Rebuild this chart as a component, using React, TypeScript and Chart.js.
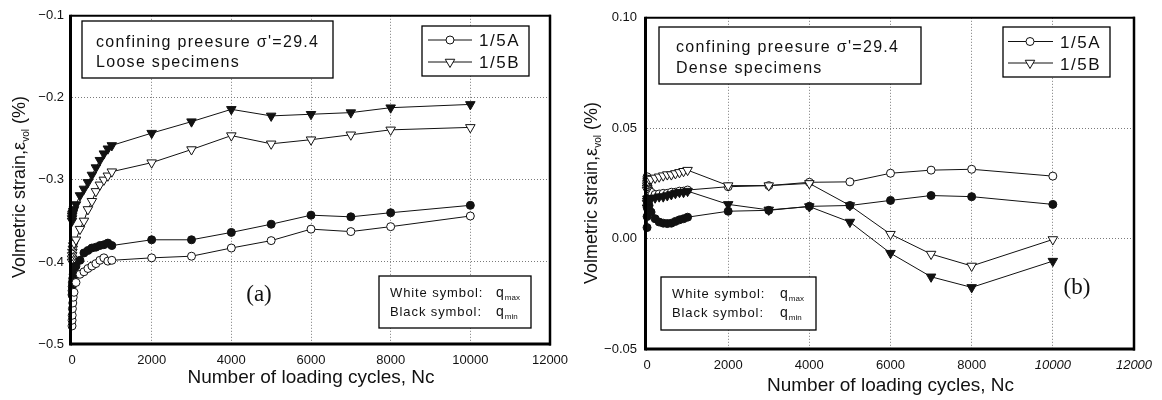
import React, { useEffect, useRef } from 'react';
import { Chart, registerables } from 'chart.js';

Chart.register(...registerables);

// ---------- data ----------
const cycles = [1, 2, 5, 10, 20, 30, 50, 100, 200, 300, 400, 500, 600, 700, 800, 900, 1000, 2000, 3000, 4000, 5000, 6000, 7000, 8000, 10000];

const xTickValues = [0, 2000, 4000, 6000, 8000, 10000, 12000];
const looseYTicks = [-0.5, -0.4, -0.3, -0.2, -0.1];
const denseYTicks = [-0.05, 0, 0.05, 0.1];

// (a) Loose specimens
const loose5A_qmax = [-0.478, -0.471, -0.465, -0.457, -0.45, -0.443, -0.437, -0.425, -0.415, -0.412, -0.408, -0.405, -0.402, -0.398, -0.395, -0.399, -0.398, -0.395, -0.393, -0.383, -0.374, -0.36, -0.363, -0.357, -0.344];
const loose5A_qmin = [-0.44, -0.435, -0.43, -0.425, -0.42, -0.415, -0.41, -0.405, -0.398, -0.389, -0.386, -0.383, -0.382, -0.38, -0.379, -0.377, -0.38, -0.373, -0.373, -0.364, -0.354, -0.343, -0.345, -0.34, -0.331];
const loose5B_qmax = [-0.4, -0.396, -0.392, -0.388, -0.384, -0.38, -0.377, -0.373, -0.36, -0.35, -0.336, -0.326, -0.314, -0.306, -0.3, -0.295, -0.29, -0.279, -0.263, -0.246, -0.256, -0.251, -0.245, -0.239, -0.236];
const loose5B_qmin = [-0.35, -0.347, -0.344, -0.342, -0.34, -0.338, -0.336, -0.33, -0.319, -0.311, -0.303, -0.294, -0.285, -0.276, -0.268, -0.262, -0.258, -0.243, -0.229, -0.214, -0.222, -0.22, -0.218, -0.212, -0.208];

// (b) Dense specimens
const dense5A_qmax = [0.028, 0.027, 0.026, 0.025, 0.024, 0.023, 0.022, 0.021, 0.02, 0.0202, 0.0205, 0.0205, 0.021, 0.021, 0.0215, 0.0215, 0.022, 0.0235, 0.024, 0.0255, 0.0257, 0.0296, 0.031, 0.0314, 0.0283];
const dense5A_qmin = [0.005, 0.01, 0.014, 0.016, 0.018, 0.017, 0.015, 0.012, 0.009, 0.0075, 0.007, 0.0068, 0.007, 0.0078, 0.0085, 0.009, 0.0097, 0.0124, 0.0128, 0.0146, 0.015, 0.0173, 0.0195, 0.019, 0.0155];
const dense5B_qmax = [0.022, 0.023, 0.024, 0.025, 0.026, 0.026, 0.027, 0.027, 0.0275, 0.028, 0.0285, 0.029, 0.029, 0.0295, 0.03, 0.0305, 0.031, 0.024, 0.024, 0.025, 0.015, 0.002, -0.007, -0.0124, -0.0004];
const dense5B_qmin = [0.014, 0.016, 0.017, 0.018, 0.018, 0.018, 0.018, 0.018, 0.0185, 0.019, 0.019, 0.0195, 0.02, 0.0205, 0.021, 0.021, 0.0215, 0.0155, 0.013, 0.0145, 0.0075, -0.0066, -0.0173, -0.0221, -0.0102];

const legendLabels = ['1/5A', '1/5B'];

// ---------- styling ----------
const SANS = "'Liberation Sans', Arial, Helvetica, sans-serif";
const SERIF = "'Liberation Serif', 'Times New Roman', serif";
const INK = '#111';

type Shape = 'circle' | 'triangle';

function seriesDataset(values: number[], shape: Shape, filled: boolean) {
  return {
    data: cycles.map((c, i) => ({ x: c, y: values[i] })),
    borderColor: INK,
    borderWidth: 1,
    pointStyle: shape,
    pointRotation: shape === 'triangle' ? 180 : 0,
    pointRadius: shape === 'triangle' ? 5.5 : 4,
    pointBorderWidth: 1,
    pointBorderColor: INK,
    pointBackgroundColor: filled ? INK : '#fff',
    tension: 0,
    clip: false,
    fill: false,
  };
}

function drawMarker(ctx: CanvasRenderingContext2D, shape: Shape, x: number, y: number) {
  ctx.beginPath();
  if (shape === 'circle') {
    ctx.arc(x, y, 4, 0, Math.PI * 2);
  } else {
    const r = 5.5;
    let rad = Math.PI;
    ctx.moveTo(x + Math.sin(rad) * r, y - Math.cos(rad) * r);
    rad += (2 * Math.PI) / 3;
    ctx.lineTo(x + Math.sin(rad) * r, y - Math.cos(rad) * r);
    rad += (2 * Math.PI) / 3;
    ctx.lineTo(x + Math.sin(rad) * r, y - Math.cos(rad) * r);
    ctx.closePath();
  }
  ctx.fillStyle = '#fff';
  ctx.fill();
  ctx.lineWidth = 1;
  ctx.strokeStyle = INK;
  ctx.stroke();
}

function setSpacing(ctx: any, v: string) {
  if ('letterSpacing' in ctx) ctx.letterSpacing = v;
}

const overlayPlugin = {
  id: 'paperOverlay',
  afterDraw(chart: any, _args: any, o: any) {
    const ctx: CanvasRenderingContext2D = chart.ctx;
    const a = chart.chartArea;
    ctx.save();
    ctx.strokeStyle = '#000';
    // frame
    const seg = (x1: number, y1: number, x2: number, y2: number, w: number) => {
      ctx.beginPath();
      ctx.lineWidth = w;
      ctx.moveTo(x1, y1);
      ctx.lineTo(x2, y2);
      ctx.stroke();
    };
    seg(a.left - 1.5, a.top, a.right + 1, a.top, 2);
    seg(a.right, a.top - 1, a.right, a.bottom + 1.5, 2.5);
    seg(a.left - 1.5, a.bottom, a.right + 1, a.bottom, 3);
    seg(a.left - 1.5, a.top - 1, a.left - 1.5, a.bottom + 1.5, 3);

    ctx.fillStyle = INK;
    ctx.textBaseline = 'alphabetic';
    ctx.textAlign = 'left';

    // info box
    const ib = o.infoBox;
    ctx.fillStyle = '#fff';
    ctx.fillRect(ib.x, ib.y, ib.w, ib.h);
    ctx.lineWidth = 1.3;
    ctx.strokeStyle = '#000';
    ctx.strokeRect(ib.x, ib.y, ib.w, ib.h);
    ctx.fillStyle = INK;
    ctx.font = `16px ${SANS}`;
    setSpacing(ctx, '1.3px');
    ib.lines.forEach((l: any) => ctx.fillText(l.text, ib.tx, l.base));
    setSpacing(ctx, '0px');

    // legend box
    const lb = o.legendBox;
    ctx.fillStyle = '#fff';
    ctx.fillRect(lb.x, lb.y, lb.w, lb.h);
    ctx.lineWidth = 1.3;
    ctx.strokeRect(lb.x, lb.y, lb.w, lb.h);
    lb.rows.forEach((r: any, i: number) => {
      ctx.lineWidth = 1;
      ctx.strokeStyle = INK;
      ctx.beginPath();
      ctx.moveTo(lb.lx1, r.y);
      ctx.lineTo(lb.lx2, r.y);
      ctx.stroke();
      drawMarker(ctx, r.shape, lb.mx, r.y);
      ctx.fillStyle = INK;
      ctx.font = `17px ${SANS}`;
      setSpacing(ctx, '1.5px');
      ctx.fillText(legendLabels[i], lb.tx, r.base);
      setSpacing(ctx, '0px');
    });

    // symbol box
    const sb = o.symbolBox;
    ctx.fillStyle = '#fff';
    ctx.fillRect(sb.x, sb.y, sb.w, sb.h);
    ctx.lineWidth = 1.3;
    ctx.strokeStyle = '#000';
    ctx.strokeRect(sb.x, sb.y, sb.w, sb.h);
    ctx.fillStyle = INK;
    sb.rows.forEach((r: any) => {
      ctx.font = `13px ${SANS}`;
      setSpacing(ctx, '0.9px');
      ctx.fillText(r.label, sb.tx, r.base);
      setSpacing(ctx, '0px');
      ctx.font = `14px ${SANS}`;
      ctx.fillText('q', sb.qx, r.base);
      const qw = ctx.measureText('q').width;
      ctx.font = `8px ${SANS}`;
      ctx.fillText(r.sub, sb.qx + qw + 1, r.base + 3);
    });

    // panel label
    ctx.font = `23px ${SERIF}`;
    ctx.textAlign = 'center';
    ctx.fillText(o.panel.text, o.panel.x, o.panel.y);

    // y title with subscript
    const yt = o.yTitle;
    const parts = [
      { t: 'Volmetric strain,\u03b5', f: `18px ${SANS}`, dy: 0 },
      { t: 'vol', f: `10px ${SANS}`, dy: 4 },
      { t: ' (%)', f: `18px ${SANS}`, dy: 0 },
    ];
    let total = 0;
    const widths = parts.map((p) => {
      ctx.font = p.f;
      const w = ctx.measureText(p.t).width;
      total += w;
      return w;
    });
    ctx.translate(yt.x, yt.y);
    ctx.rotate(-Math.PI / 2);
    ctx.textAlign = 'left';
    let cx = -total / 2;
    parts.forEach((p, i) => {
      ctx.font = p.f;
      ctx.fillText(p.t, cx, p.dy);
      cx += widths[i];
    });
    ctx.restore();
  },
};

type Spec = {
  datasets: any[];
  yTicks: number[];
  yFormat: (v: number) => string;
  yAxisWidth: number;
  xAxisHeight: number;
  padRight: number;
  yTickPad: number;
  xTitlePad: number;
  italicFrom: number;
  overlay: any;
};

const minus = (s: string) => s.replace('-', '\u2212');

const looseSpec: Spec = {
  datasets: [
    seriesDataset(loose5A_qmax, 'circle', false),
    seriesDataset(loose5A_qmin, 'circle', true),
    seriesDataset(loose5B_qmax, 'triangle', false),
    seriesDataset(loose5B_qmin, 'triangle', true),
  ],
  yTicks: looseYTicks,
  yFormat: (v) => minus(v.toFixed(1)),
  yAxisWidth: 72,
  xAxisHeight: 56,
  padRight: 30,
  yTickPad: 8,
  xTitlePad: 11,
  italicFrom: 1e9,
  overlay: {
    infoBox: { x: 82, y: 21, w: 251, h: 57, tx: 96, lines: [{ text: "confining preesure \u03c3'=29.4", base: 46.5 }, { text: 'Loose specimens', base: 66.5 }] },
    legendBox: { x: 422, y: 26, w: 107, h: 50, lx1: 428, lx2: 472, mx: 450, tx: 479, rows: [{ y: 40, shape: 'circle', base: 46 }, { y: 62, shape: 'triangle', base: 68 }] },
    symbolBox: { x: 379, y: 276, w: 152, h: 52, tx: 390, qx: 496, rows: [{ label: 'White symbol:', sub: 'max', base: 297 }, { label: 'Black symbol:', sub: 'min', base: 316 }] },
    panel: { text: '(a)', x: 259, y: 301 },
    yTitle: { x: 25, y: 187 },
  },
};

const denseSpec: Spec = {
  datasets: [
    seriesDataset(dense5B_qmin, 'triangle', true),
    seriesDataset(dense5A_qmin, 'circle', true),
    seriesDataset(dense5B_qmax, 'triangle', false),
    seriesDataset(dense5A_qmax, 'circle', false),
  ],
  yTicks: denseYTicks,
  yFormat: (v) => minus((Math.abs(v) < 1e-9 ? 0 : v).toFixed(2)),
  yAxisWidth: 67,
  xAxisHeight: 51,
  padRight: 28,
  yTickPad: 10,
  xTitlePad: 3,
  italicFrom: 10000,
  overlay: {
    infoBox: { x: 79, y: 27, w: 262, h: 57, tx: 96, lines: [{ text: "confining preesure \u03c3'=29.4", base: 52 }, { text: 'Dense specimens', base: 73 }] },
    legendBox: { x: 423, y: 27, w: 107, h: 50, lx1: 428, lx2: 473, mx: 450, tx: 480, rows: [{ y: 41.5, shape: 'circle', base: 48 }, { y: 63, shape: 'triangle', base: 70 }] },
    symbolBox: { x: 81, y: 277, w: 155, h: 53, tx: 92, qx: 200, rows: [{ label: 'White symbol:', sub: 'max', base: 298 }, { label: 'Black symbol:', sub: 'min', base: 317 }] },
    panel: { text: '(b)', x: 497, y: 294 },
    yTitle: { x: 17, y: 193 },
  },
};

function gridColor(min: number, max: number) {
  return (c: any) => {
    const v = c.tick ? c.tick.value : NaN;
    if (Math.abs(v - min) < 1e-9 || Math.abs(v - max) < 1e-9) return 'rgba(0,0,0,0)';
    return '#7a7a7a';
  };
}

function ChartPanel({ spec, left, width }: { spec: Spec; left: number; width: number }) {
  const ref = useRef<HTMLCanvasElement | null>(null);
  useEffect(() => {
    if (!ref.current) return;
    const yMin = spec.yTicks[0];
    const yMax = spec.yTicks[spec.yTicks.length - 1];
    const xMin = xTickValues[0];
    const xMax = xTickValues[xTickValues.length - 1];
    const chart = new Chart(ref.current, {
      type: 'line',
      data: { datasets: spec.datasets },
      plugins: [overlayPlugin],
      options: {
        responsive: false,
        animation: false,
        devicePixelRatio: 1,
        layout: { padding: { left: 0, right: spec.padRight, top: 10, bottom: 0 } },
        plugins: {
          legend: { display: false },
          tooltip: { enabled: false },
          paperOverlay: spec.overlay,
        } as any,
        scales: {
          x: {
            type: 'linear',
            min: xMin,
            max: xMax,
            afterBuildTicks: (s: any) => {
              s.ticks = xTickValues.map((v) => ({ value: v }));
            },
            afterFit: (s: any) => {
              s.height = spec.xAxisHeight;
            },
            grid: { color: gridColor(xMin, xMax), lineWidth: 1, drawTicks: false },
            border: { display: false, dash: [1, 2] },
            ticks: {
              padding: 9,
              color: INK,
              maxRotation: 0,
              autoSkip: false,
              callback: (v: any) => String(v),
              font: (c: any) => ({
                family: SANS,
                size: 13,
                style: c.tick && c.tick.value >= spec.italicFrom ? 'italic' : 'normal',
              }),
            },
            title: {
              display: true,
              text: 'Number of loading cycles, Nc',
              color: INK,
              font: { family: SANS, size: 19 },
              padding: { top: 0, bottom: spec.xTitlePad },
            },
          },
          y: {
            type: 'linear',
            min: yMin,
            max: yMax,
            afterBuildTicks: (s: any) => {
              s.ticks = spec.yTicks.map((v) => ({ value: v }));
            },
            afterFit: (s: any) => {
              s.width = spec.yAxisWidth;
            },
            grid: { color: gridColor(yMin, yMax), lineWidth: 1, drawTicks: false },
            border: { display: false, dash: [1, 2] },
            ticks: {
              padding: spec.yTickPad,
              color: INK,
              autoSkip: false,
              font: { family: SANS, size: 13 },
              callback: (v: any) => spec.yFormat(Number(v)),
            },
          },
        },
      } as any,
    });
    return () => chart.destroy();
  }, [spec]);
  return (
    <div style={{ position: 'absolute', left, top: 0, width, height: 400 }}>
      <canvas ref={ref} width={width} height={400} style={{ width, height: 400, display: 'block' }} />
    </div>
  );
}

export default function App() {
  return (
    <div style={{ position: 'absolute', left: 0, top: 0, width: 1162, height: 400, background: '#fff' }}>
      <ChartPanel spec={looseSpec} left={0} width={580} />
      <ChartPanel spec={denseSpec} left={580} width={582} />
    </div>
  );
}
